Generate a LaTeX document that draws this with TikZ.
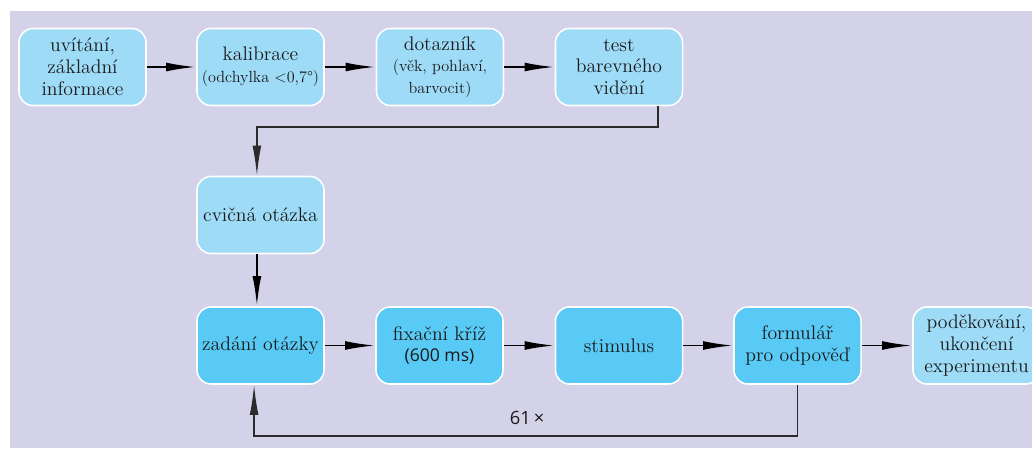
\documentclass[tikz,border=0pt]{standalone}
\usepackage{fontspec}
\newfontfamily\countfont{Open Sans}
\usetikzlibrary{arrows.meta,positioning}
\definecolor{bgColor}{HTML}{D4D2E8}
\definecolor{lightColor}{HTML}{9EDBF7}
\definecolor{darkColor}{HTML}{58CAF5}
\definecolor{loopColor}{HTML}{2B2B2B}
\tikzset{stage state/.style={draw=white, line width=1.1pt, rounded corners=0.35cm,
		minimum width=3.175cm, minimum height=1.925cm, inner sep=1pt, align=center,
		text=black!90, font=\fontsize{14}{15.5}\selectfont}}
\tikzset{light state/.style={stage state, fill=lightColor}}
\tikzset{dark state/.style={stage state, fill=darkColor}}
\newcommand{\smalltext}[1]{{\fontsize{11.5}{12.5}\selectfont #1}}

\begin{document}
\begin{tikzpicture}[x=0.025cm, y=-0.025cm, line width=1.4pt,
					>={Latex[length=0.75cm,width=0.22cm]}]
					\useasboundingbox (0,0) rectangle (1032,448);
					\fill[bgColor] (10,11) rectangle (1032,448);
					% first row
					\node[light state] at (82.5,67)  (welcome) {uvítání,\\ základní\\ informace};
					\node[light state] at (260.5,67) (calib)   {kalibrace\\ \smalltext{(odchylka <0,7°)}};
					\node[light state] at (440,67)   (quest)   {dotazník\\ \smalltext{(věk, pohlaví,}\\ \smalltext{barvocit)}};
					\node[light state] at (619,67)   (colour)  {test\\ barevného\\ vidění};
					% practice
					\node[light state] at (260.5,215) (drill) {cvičná otázka};
					% trial loop
					\node[dark state] at (260.5,345.5) (ask)   {zadání otázky};
					\node[dark state] at (439.5,345.5) (cross) {fixační kříž\\ {\countfont\fontsize{12.5}{15.5}\selectfont(600 ms)}};
					\node[dark state] at (619,345.5)   (stim)  {stimulus};
					\node[dark state] at (797.5,345.5) (form)  {formulář\\ pro odpověď};
					\node[light state] at (976.5,345.5) (thanks) {poděkování,\\ ukončení\\ experimentu};
					\node[font=\countfont\fontsize{13}{15}\selectfont, text=black!90] at (527,418) (count) {61\,×};
					\path[->] (welcome) edge (calib);
					\path[->] (calib) edge (quest);
					\path[->] (quest) edge (colour);
					\draw[->, loopColor, line width=1.2pt] ([xshift=0.975cm]colour.south) -- ++(0,21) -| ([xshift=-0.09cm]drill.north);
					\draw[->] ([xshift=-0.09cm]drill.south) -- ([xshift=-0.09cm]ask.north);
					\path[->] (ask) edge (cross);
					\path[->] (cross) edge (stim);
					\path[->] (stim) edge (form);
					\path[->] (form) edge (thanks);
					\draw[->, loopColor, line width=1.2pt] (form.south) -- ++(0,51) -| ([xshift=-0.16cm]ask.south);
				\end{tikzpicture}
\end{document}
